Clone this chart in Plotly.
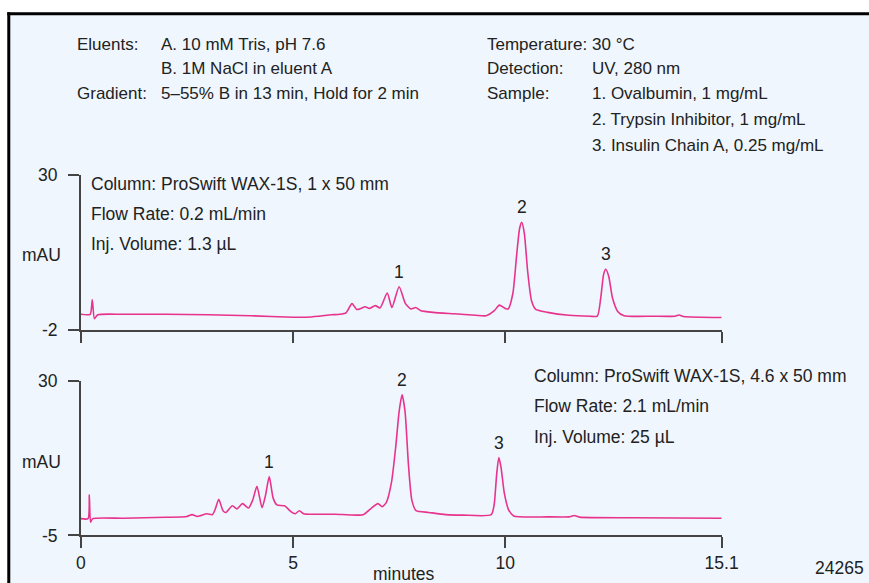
import plotly.graph_objects as go

# ---- chromatogram traces (time in minutes, absorbance in mAU) ----
top_time = [0.0, 0.22, 0.27, 0.32, 0.40, 1.0, 2.0, 3.0, 4.0, 5.0, 5.3, 5.6, 5.9, 6.1,
            6.25, 6.39, 6.5, 6.6, 6.7, 6.8, 6.94, 7.05, 7.22, 7.33, 7.5, 7.65, 7.78,
            7.89, 8.0, 8.3, 8.8, 9.3, 9.55, 9.75, 9.86, 10.0, 10.07, 10.18, 10.27,
            10.34, 10.39, 10.45, 10.53, 10.62, 10.72, 11.0, 11.5, 12.0, 12.17, 12.25,
            12.32, 12.37, 12.44, 12.53, 12.65, 12.8, 13.5, 14.0, 14.1, 14.2, 15.1]
top_mau = [1.2, 1.2, 4.2, 0.3, 1.1, 1.2, 1.2, 1.1, 0.9, 0.6, 0.6, 0.8, 1.1, 1.2,
           1.5, 3.4, 2.2, 2.4, 2.75, 2.4, 3.0, 2.5, 5.6, 2.6, 6.9, 3.4, 2.3,
           2.6, 2.0, 1.6, 1.3, 1.0, 0.9, 2.0, 3.1, 2.4, 2.3, 5.5, 13.5,
           19.0, 20.2, 18.0, 10.0, 4.0, 2.2, 1.6, 1.0, 0.8, 0.8, 4.5,
           9.5, 10.5, 9.0, 4.5, 1.8, 0.9, 0.8, 0.8, 1.05, 0.75, 0.55]

bot_time = [0.0, 0.17, 0.2, 0.23, 0.28, 1.0, 2.0, 2.5, 2.62, 2.75, 2.97, 3.1, 3.17,
            3.25, 3.35, 3.42, 3.57, 3.68, 3.81, 3.95, 4.05, 4.15, 4.27, 4.35, 4.44,
            4.53, 4.62, 4.8, 4.95, 5.05, 5.15, 5.25, 5.6, 6.0, 6.65, 6.85, 7.0, 7.1,
            7.2, 7.32, 7.42, 7.5, 7.57, 7.64, 7.72, 7.8, 7.9, 8.2, 8.6, 9.0, 9.67,
            9.74, 9.8, 9.85, 9.9, 9.98, 10.08, 10.2, 11.0, 11.5, 11.63, 11.75, 13.0,
            15.1]
bot_mau = [-1.2, -1.2, 4.2, -2.0, -1.2, -1.1, -0.9, -0.7, -0.3, -0.7, -0.1, -0.3, 1.0,
           3.2, 0.6, 0.2, 1.7, 1.0, 2.2, 1.2, 3.0, 6.1, 1.3, 4.0, 8.3,
           3.5, 1.9, 1.7, 0.4, -0.1, 0.6, -0.1, -0.2, -0.2, -0.3, 1.2, 2.2, 1.5,
           2.5, 7.0, 15.0, 23.0, 26.8, 23.0, 11.0, 3.0, 0.6, 0.2, -0.3, -0.4, -0.3,
           2.0, 9.0, 12.6, 10.5, 4.5, 0.8, -0.6, -0.8, -0.8, -0.5, -0.85, -1.0,
           -1.1]

# ---- peak identification ----
peak_ids = ["1", "2", "3"]
top_peak_time = [7.5, 10.39, 12.37]
top_peak_mau = [6.9, 20.2, 10.5]
bot_peak_time = [4.44, 7.57, 9.85]
bot_peak_mau = [8.3, 26.8, 12.6]

# ---- axis ticks ----
x_ticks = [0, 5, 10, 15.1]
x_tick_text = ["0", "5", "10", "15.1"]
top_y_ticks = [-2, 30]
top_y_text = ["-2", "30"]
bot_y_ticks = [-5, 30]
bot_y_text = ["-5", "30"]

# page geometry: layout positions below are given on an 869 x 583 grid,
# which spans the page at scale S; the figure sits inside the 8 px body margin
S = 0.968
OFF = 8
W, H = 892, 597

FONT = "Liberation Sans, Arial, sans-serif"
TXT = "#222222"
AX = "#444444"
TRACE = "#E8338E"
BG = "#EFF6FD"
FS = 17.5
FS_HEAD = 17


def px(x):
    """grid x -> paper fraction"""
    return (x / S - OFF) / W


def py(y):
    """grid y -> paper fraction"""
    return 1 - (y / S - OFF) / H


x_dom = [px(83), px(719)]

fig = go.Figure()
fig.add_trace(go.Scatter(x=top_time, y=top_mau, mode="lines", xaxis="x", yaxis="y",
                         line=dict(color=TRACE, width=1.6, shape="spline", smoothing=0.6),
                         hoverinfo="skip"))
fig.add_trace(go.Scatter(x=bot_time, y=bot_mau, mode="lines", xaxis="x2", yaxis="y2",
                         line=dict(color=TRACE, width=1.6, shape="spline", smoothing=0.6),
                         hoverinfo="skip"))

axis_common = dict(showline=True, linecolor=AX, linewidth=1.6, ticks="outside",
                   ticklen=11, tickcolor=AX, tickwidth=1.6, showgrid=False,
                   zeroline=False, fixedrange=True,
                   tickfont=dict(family=FONT, size=17.5, color=TXT))

fig.update_layout(
    width=W, height=H,
    margin=dict(l=0, r=0, t=0, b=0),
    paper_bgcolor="white",
    plot_bgcolor="rgba(0,0,0,0)",
    showlegend=False,
    font=dict(family=FONT, size=FS, color=TXT),
    xaxis=dict(domain=x_dom, range=[0, 15.1], anchor="y", tickvals=x_ticks,
               showticklabels=False, **axis_common),
    yaxis=dict(domain=[py(328), py(173)], range=[-2, 30], anchor="x",
               tickvals=top_y_ticks, ticktext=top_y_text, ticklabelstandoff=7,
               **axis_common),
    xaxis2=dict(domain=x_dom, range=[0, 15.1], anchor="y2", tickvals=x_ticks,
                ticktext=x_tick_text, **axis_common),
    yaxis2=dict(domain=[py(534), py(379)], range=[-5, 30], anchor="x2",
                tickvals=bot_y_ticks, ticktext=bot_y_text, ticklabelstandoff=7,
                **axis_common),
)

# background panel with a heavy top/left rule
fig.add_shape(type="rect", xref="paper", yref="paper", x0=px(10), x1=1, y0=0, y1=py(10),
              fillcolor=BG, line=dict(width=0), layer="below")
fig.add_shape(type="line", xref="paper", yref="paper", x0=px(10), x1=1, y0=py(11.5), y1=py(11.5),
              line=dict(color="black", width=3))
fig.add_shape(type="line", xref="paper", yref="paper", x0=px(11.5), x1=px(11.5), y0=0, y1=py(10),
              line=dict(color="black", width=3))


def note(text, x, y, xanchor="left", size=FS):
    fig.add_annotation(text=text, xref="paper", yref="paper", x=px(x), y=py(y),
                       xanchor=xanchor, yanchor="middle", showarrow=False,
                       font=dict(family=FONT, size=size, color=TXT))


# method conditions
note("Eluents:", 77, 42, size=FS_HEAD)
note("A. 10 mM Tris, pH 7.6", 161, 42, size=FS_HEAD)
note("B. 1M NaCl in eluent A", 161, 66, size=FS_HEAD)
note("Gradient:", 77, 91, size=FS_HEAD)
note("5–55% B in 13 min, Hold for 2 min", 161, 91, size=FS_HEAD)
note("Temperature:", 484, 42, size=FS_HEAD)
note("30 °C", 588, 42, size=FS_HEAD)
note("Detection:", 484, 66, size=FS_HEAD)
note("UV, 280 nm", 588, 66, size=FS_HEAD)
note("Sample:", 484, 91, size=FS_HEAD)
note("1. Ovalbumin, 1 mg/mL", 588, 91, size=FS_HEAD)
note("2. Trypsin Inhibitor, 1 mg/mL", 588, 117, size=FS_HEAD)
note("3. Insulin Chain A, 0.25 mg/mL", 588, 143, size=FS_HEAD)

# column details for each run
note("Column: ProSwift WAX-1S, 1 x 50 mm", 91, 182)
note("Flow Rate: 0.2 mL/min", 91, 212)
note("Inj. Volume: 1.3 µL", 91, 242)
note("Column: ProSwift WAX-1S, 4.6 x 50 mm", 531, 374)
note("Flow Rate: 2.1 mL/min", 531, 404)
note("Inj. Volume: 25 µL", 531, 435)

# axis captions
note("mAU", 44, 253, xanchor="center")
note("mAU", 44, 460, xanchor="center")
note("minutes", 404, 573, xanchor="center")
note("24265", 862, 567, xanchor="right")

# peak numbers
for pid, t, v in zip(peak_ids, top_peak_time, top_peak_mau):
    fig.add_annotation(text=pid, x=t, y=v, xref="x", yref="y", showarrow=False,
                       yanchor="bottom", yshift=3,
                       font=dict(family=FONT, size=FS, color=TXT))
for pid, t, v in zip(peak_ids, bot_peak_time, bot_peak_mau):
    fig.add_annotation(text=pid, x=t, y=v, xref="x2", yref="y2", showarrow=False,
                       yanchor="bottom", yshift=3,
                       font=dict(family=FONT, size=FS, color=TXT))

fig.write_html("out.html")
